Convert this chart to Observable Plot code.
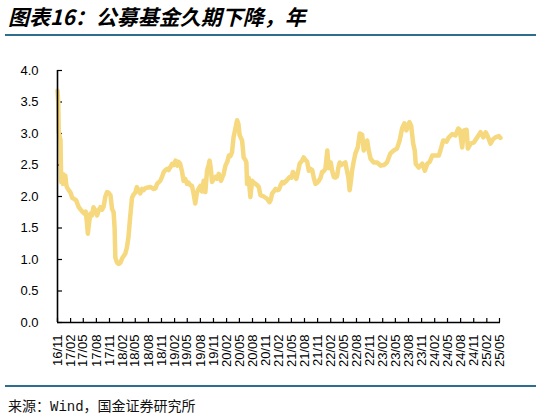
<!DOCTYPE html>
<html>
<head>
<meta charset="utf-8">
<script src="https://cdn.jsdelivr.net/npm/d3@7"></script>
<script src="https://cdn.jsdelivr.net/npm/@observablehq/plot@0.6"></script>
<style>
  body { margin: 0; background: #fff; width: 541px; height: 417px; position: relative; overflow: hidden; }
  #title { position: absolute; left: 8px; top: 2px; font: italic bold 21px/28px "Noto Sans CJK SC", sans-serif; color: #000; white-space: nowrap; }
  .rule { position: absolute; left: 5px; width: 531px; height: 2px; background: #2f6d8f; }
  #chart { position: absolute; left: 0; top: 38px; }
  #source { position: absolute; left: 8px; top: 396px; font: 14px/18px "Noto Sans CJK SC", sans-serif; color: #111; white-space: nowrap; }
  #source span { font-family: "Liberation Mono", "DejaVu Sans Mono", monospace; }
</style>
</head>
<body>
<div id="title">图表16：公募基金久期下降，年</div>
<div class="rule" style="top:34px"></div>
<div id="chart"></div>
<div class="rule" style="top:385px"></div>
<div id="source">来源：<span>Wind</span>，国金证券研究所</div>
<script>
// 公募基金久期（年），读图估计
const dates = [
  "2016-11-01","2016-11-06","2016-11-10","2016-11-16","2016-11-22","2016-11-27","2016-12-03","2016-12-09","2016-12-14","2016-12-21",
  "2016-12-26","2017-01-02","2017-01-08","2017-01-20","2017-02-01","2017-02-12","2017-02-27","2017-03-12","2017-03-28","2017-04-10",
  "2017-04-24","2017-05-08","2017-05-18","2017-05-26","2017-06-02","2017-06-09","2017-06-20","2017-07-01","2017-07-12","2017-07-24",
  "2017-08-06","2017-08-17","2017-08-29","2017-09-10","2017-09-21","2017-10-03","2017-10-15","2017-10-26","2017-11-08","2017-11-19",
  "2017-11-30","2017-12-07","2017-12-12","2017-12-24","2018-01-05","2018-01-17","2018-01-29","2018-02-10","2018-02-21","2018-03-03",
  "2018-03-14","2018-03-26","2018-04-08","2018-04-19","2018-05-01","2018-05-12","2018-05-24","2018-06-05","2018-06-17","2018-06-28",
  "2018-07-10","2018-07-22","2018-08-15","2018-09-08","2018-09-20","2018-10-01","2018-10-24","2018-11-06","2018-11-17","2018-11-29",
  "2018-12-11","2018-12-21","2019-01-03","2019-01-15","2019-01-26","2019-02-08","2019-02-20","2019-03-01","2019-03-12","2019-03-24",
  "2019-04-05","2019-04-17","2019-04-29","2019-05-10","2019-05-22","2019-06-03","2019-06-14","2019-06-26","2019-07-08","2019-07-19",
  "2019-08-01","2019-08-12","2019-08-24","2019-09-05","2019-09-17","2019-09-28","2019-10-05","2019-10-13","2019-10-22","2019-11-03",
  "2019-11-15","2019-11-26","2019-12-08","2019-12-24","2020-01-12","2020-01-24","2020-02-06","2020-02-17","2020-02-28","2020-03-10",
  "2020-03-21","2020-04-03","2020-04-15","2020-04-24","2020-05-03","2020-05-20","2020-05-31","2020-06-12","2020-06-19","2020-06-24",
  "2020-07-05","2020-07-17","2020-07-29","2020-08-10","2020-08-22","2020-09-03","2020-09-14","2020-09-26","2020-10-08","2020-10-19",
  "2020-11-01","2020-11-12","2020-11-28","2020-12-07","2020-12-17","2020-12-28","2021-01-10","2021-01-22","2021-02-03","2021-02-14",
  "2021-02-26","2021-03-08","2021-03-27","2021-04-19","2021-05-01","2021-05-12","2021-05-24","2021-06-05","2021-06-17","2021-06-28",
  "2021-07-15","2021-07-26","2021-08-08","2021-08-20","2021-08-31","2021-09-12","2021-09-24","2021-10-05","2021-10-17","2021-10-29",
  "2021-11-10","2021-11-22","2021-12-03","2021-12-14","2021-12-26","2022-01-08","2022-01-19","2022-02-01","2022-02-12","2022-02-23",
  "2022-03-05","2022-03-17","2022-03-26","2022-04-05","2022-04-17","2022-04-29","2022-05-15","2022-05-26","2022-06-05","2022-06-14",
  "2022-06-23","2022-07-01","2022-07-12","2022-07-24","2022-08-10","2022-08-24","2022-09-10","2022-09-21","2022-10-03","2022-10-15",
  "2022-10-26","2022-11-08","2022-11-30","2022-12-24","2023-01-17","2023-02-10","2023-03-03","2023-03-26","2023-04-19","2023-05-12",
  "2023-05-31","2023-06-17","2023-07-03","2023-07-17","2023-08-08","2023-08-20","2023-09-03","2023-09-14","2023-09-21","2023-10-12",
  "2023-11-06","2023-11-24","2023-12-11","2023-12-28","2024-01-15","2024-02-08","2024-03-01","2024-03-12","2024-04-01","2024-04-24",
  "2024-05-10","2024-06-03","2024-06-26","2024-07-15","2024-07-26","2024-08-12","2024-08-24","2024-09-12","2024-09-21","2024-10-10",
  "2024-11-03","2024-11-26","2024-12-19","2025-01-08","2025-01-24","2025-02-10","2025-02-27","2025-03-17","2025-04-03","2025-04-26",
  "2025-05-08"
];
const duration = [
  3.68,3.50,3.02,2.95,2.90,2.23,2.28,2.20,2.35,2.22,
  2.33,2.18,2.14,2.10,2.06,1.98,1.96,1.94,1.84,1.80,
  1.76,1.73,1.76,1.60,1.41,1.55,1.73,1.70,1.83,1.78,
  1.70,1.78,1.83,1.79,1.84,2.00,2.07,2.06,2.02,1.80,
  1.75,1.50,1.03,0.95,0.93,0.95,1.02,1.06,1.10,1.19,
  1.35,1.67,1.98,2.03,2.06,2.15,2.10,2.05,2.12,2.10,
  2.13,2.14,2.15,2.12,2.13,2.20,2.25,2.32,2.39,2.42,
  2.44,2.42,2.47,2.52,2.50,2.57,2.49,2.55,2.52,2.41,
  2.25,2.28,2.20,2.22,2.18,2.17,2.05,1.89,2.06,2.12,
  2.17,2.08,2.25,2.07,2.41,2.50,2.57,2.45,2.23,2.28,
  2.31,2.28,2.36,2.25,2.36,2.49,2.55,2.65,2.64,2.70,
  2.94,3.08,3.21,3.15,2.97,2.89,2.62,2.58,2.54,2.20,
  2.30,1.99,2.25,2.22,2.20,2.18,2.15,2.02,2.01,2.00,
  1.98,1.96,1.91,1.95,2.05,2.08,2.12,2.10,2.11,2.18,
  2.23,2.21,2.25,2.31,2.30,2.39,2.33,2.28,2.40,2.52,
  2.57,2.62,2.58,2.55,2.41,2.44,2.42,2.30,2.20,2.22,
  2.25,2.30,2.39,2.40,2.44,2.73,2.45,2.54,2.40,2.31,
  2.30,2.32,2.45,2.54,2.50,2.52,2.54,2.41,2.30,2.10,
  2.25,2.41,2.55,2.68,2.78,3.00,2.98,2.73,2.80,2.89,
  2.73,2.60,2.54,2.54,2.49,2.50,2.54,2.68,2.73,2.76,
  2.89,3.08,3.16,3.05,3.18,3.12,2.84,2.73,2.52,2.46,
  2.52,2.41,2.52,2.55,2.65,2.65,2.65,2.73,2.89,2.87,
  2.94,2.99,2.97,3.08,3.06,2.78,3.05,3.06,2.76,2.84,
  2.86,2.94,3.02,2.94,3.02,2.94,2.84,2.91,2.94,2.96,
  2.93
];
const xTickLabels = [
  "16/11","17/02","17/05","17/08","17/11","18/02","18/05","18/08","18/11",
  "19/02","19/05","19/08","19/11","20/02","20/05","20/08","20/11",
  "21/02","21/05","21/08","21/11","22/02","22/05","22/08","22/11",
  "23/02","23/05","23/08","23/11","24/02","24/05","24/08","24/11",
  "25/02","25/05"
];
const yTicks = [0, 0.5, 1, 1.5, 2, 2.5, 3, 3.5, 4];

const parseDay = d3.utcParse("%Y-%m-%d");
const parseTick = d3.utcParse("%y/%m");
const data = dates.map((d, i) => ({date: parseDay(d), value: duration[i]}));
const tickDates = xTickLabels.map(parseTick);

const chart = Plot.plot({
  width: 541,
  height: 345,
  marginTop: 32,
  marginBottom: 61,
  marginLeft: 57,
  marginRight: 41,
  x: {type: "utc", domain: [data[0].date, data[data.length - 1].date]},
  y: {domain: [0, 4]},
  style: {fontFamily: "'Liberation Sans', Arial, sans-serif", fontSize: "13px", color: "#000", background: "#fff"},
  marks: [
    Plot.axisY({ticks: yTicks, tickSize: 0, tickPadding: 19, tickFormat: d3.format(".1f"), label: null}),
    Plot.axisY({ticks: yTicks, tickSize: 5, dx: 5, fill: "none", label: null, strokeWidth: 1.2}),
    Plot.axisX({ticks: tickDates, tickSize: 0, tickPadding: 12, tickRotate: -90, tickFormat: d3.utcFormat("%y/%m"), label: null}),
    Plot.axisX({ticks: tickDates, tickSize: 4, dy: -4, fill: "none", label: null, strokeWidth: 1.2}),
    Plot.line(data, {x: "date", y: "value", stroke: "#f6d87e", strokeWidth: 4.5, strokeLinejoin: "round", strokeLinecap: "round"}),
    Plot.ruleX([data[0].date], {strokeWidth: 1.6}),
    Plot.ruleY([0], {strokeWidth: 1.6})
  ]
});

document.getElementById("chart").append(chart);
</script>
</body>
</html>
